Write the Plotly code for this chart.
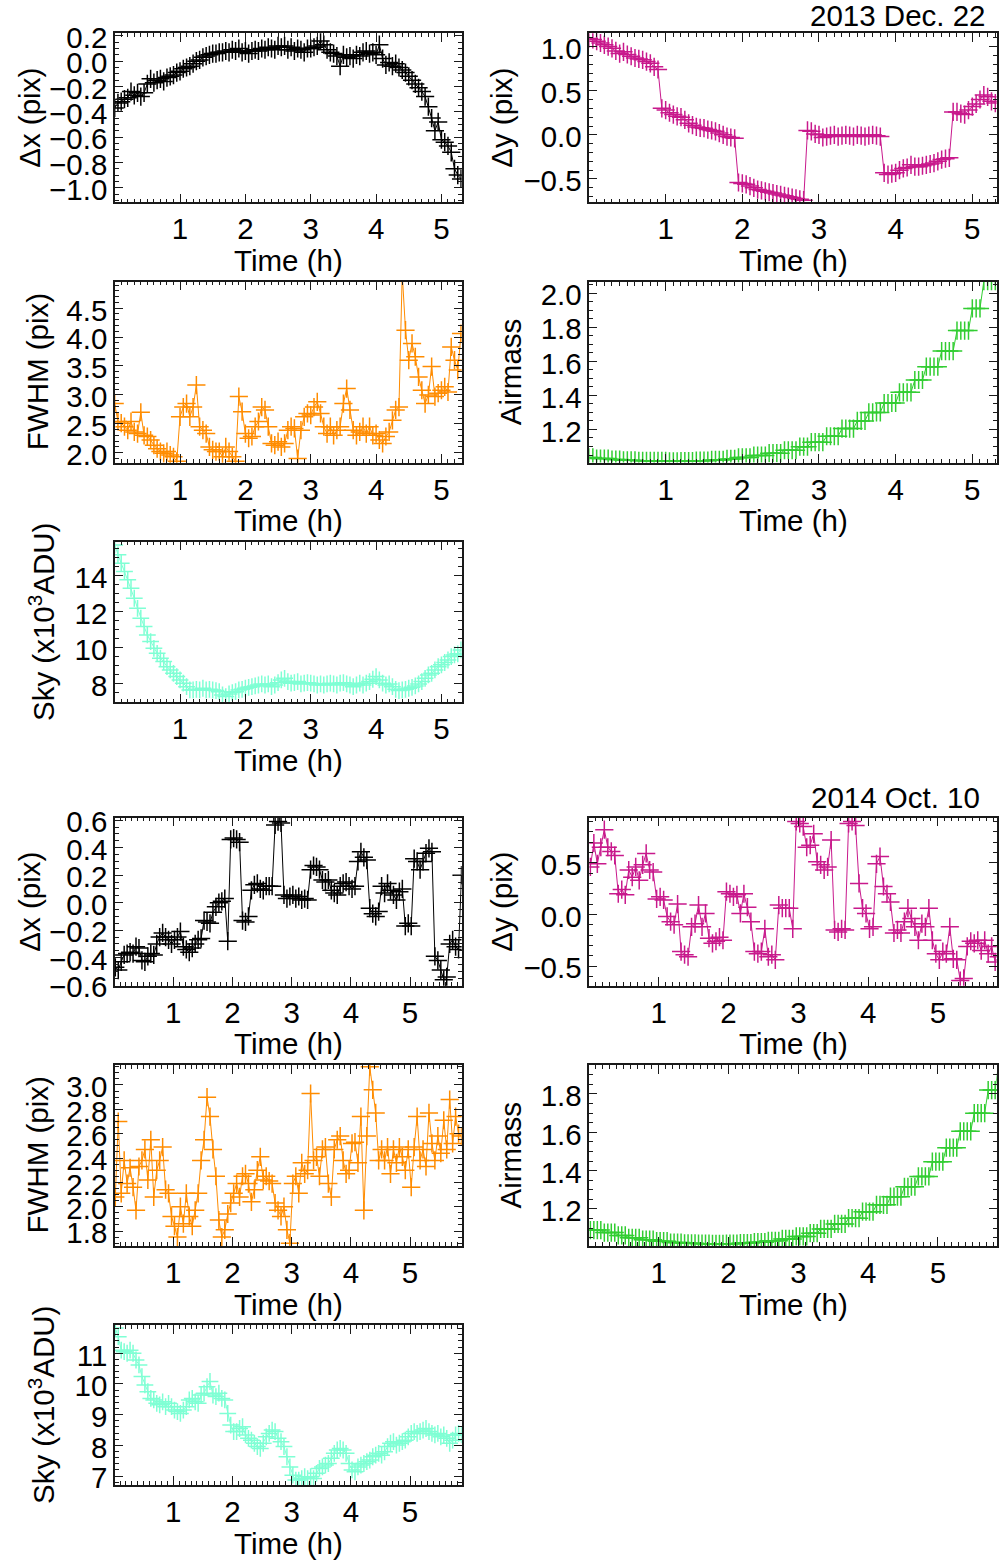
import plotly.graph_objects as go

W, H = 1000, 1564
DT = 0.05          # sampling cadence (h)
T0_2013 = 0.0
T0_2014 = 0.02

# ---------------- 2013 Dec. 22 ----------------
dx_2013 = [-0.37, -0.33, -0.32, -0.30, -0.29, -0.24, -0.27, -0.25, -0.28, -0.25,
           -0.18, -0.14, -0.17, -0.15, -0.14, -0.16, -0.13, -0.12, -0.11, -0.09,
           -0.08, -0.06, -0.05, -0.04, -0.02, 0.00, 0.01, 0.03, 0.04, 0.05,
           0.06, 0.06, 0.07, 0.07, 0.08, 0.07, 0.09, 0.08, 0.10, 0.07,
           0.08, 0.06, 0.08, 0.09, 0.08, 0.10, 0.09, 0.11, 0.10, 0.09,
           0.12, 0.11, 0.12, 0.09, 0.11, 0.08, 0.10, 0.09, 0.07, 0.10,
           0.10, 0.11, 0.12, 0.16, 0.13, 0.09, 0.07, 0.06, 0.04, -0.04,
           0.05, 0.03, 0.04, 0.02, 0.05, 0.04, 0.07, 0.08, 0.06, 0.07,
           0.05, 0.13, 0.02, -0.03, -0.01, -0.04, -0.02, -0.05, -0.07, -0.09,
           -0.12, -0.15, -0.18, -0.21, -0.24, -0.28, -0.36, -0.45, -0.55, -0.48,
           -0.62, -0.64, -0.67, -0.72, -0.85, -0.90, -0.93]

dy_2013 = [1.09, 1.08, 1.06, 1.04, 1.02, 1.00, 0.98, 0.95, 0.92, 0.94,
           0.91, 0.89, 0.87, 0.86, 0.85, 0.83, 0.81, 0.77, 0.74, 0.30,
           0.28, 0.25, 0.23, 0.21, 0.20, 0.17, 0.13, 0.11, 0.09, 0.08,
           0.075, 0.06, 0.05, 0.04, 0.02, 0.00, -0.02, -0.03, -0.04, -0.54,
           -0.55, -0.56, -0.58, -0.60, -0.62, -0.63, -0.64, -0.65, -0.66, -0.67,
           -0.68, -0.69, -0.70, -0.71, -0.72, -0.73, -0.74, 0.05, 0.04, 0.01,
           0.00, -0.03, -0.02, -0.01, 0.00, -0.02, -0.01, 0.00, -0.01, -0.02,
           0.00, -0.01, -0.02, -0.01, 0.00, -0.01, -0.02, -0.43, -0.45, -0.44,
           -0.43, -0.40, -0.38, -0.37, -0.34, -0.36, -0.36, -0.35, -0.34, -0.33,
           -0.32, -0.30, -0.28, -0.27, -0.26, 0.26, 0.26, 0.24, 0.23, 0.28,
           0.32, 0.35, 0.40, 0.45, 0.43, 0.38, 0.36]

fwhm_2013 = [2.85, 2.54, 2.51, 2.45, 2.39, 2.54, 2.36, 2.33, 2.70, 2.30,
             2.28, 2.22, 2.13, 2.07, 2.02, 1.99, 2.02, 1.96, 1.93, 1.85,
             2.62, 2.79, 2.85, 2.62, 2.79, 3.17, 2.45, 2.39, 2.33, 2.10,
             2.05, 2.02, 2.02, 1.93, 2.10, 2.02, 1.93, 1.85, 2.97, 2.71,
             2.33, 2.25, 2.28, 2.45, 2.54, 2.79, 2.74, 2.45, 2.16, 2.13,
             2.19, 2.10, 2.16, 2.39, 2.45, 2.42, 1.90, 2.39, 2.62, 2.68,
             2.65, 2.79, 2.88, 2.68, 2.45, 2.33, 2.45, 2.30, 2.39, 2.45,
             2.85, 3.11, 2.74, 2.39, 2.30, 2.36, 2.45, 2.33, 2.45, 2.30,
             2.33, 2.22, 2.16, 2.28, 2.36, 2.56, 2.74, 2.79, 5.10, 4.12,
             3.60, 3.89, 3.66, 3.31, 3.08, 2.85, 3.00, 3.49, 2.97, 3.03,
             3.08, 3.14, 3.05, 3.83, 3.60, 3.43, 4.06]

airmass_2013 = [1.036, 1.036,
                1.029, 1.029, 1.029, 1.029,
                1.023, 1.023, 1.023,
                1.019, 1.019, 1.019, 1.019,
                1.016, 1.016, 1.016, 1.016,
                1.015, 1.015, 1.015, 1.015,
                1.013, 1.013, 1.013,
                1.014, 1.014, 1.014, 1.014,
                1.017, 1.017, 1.017, 1.017,
                1.021, 1.021, 1.021, 1.021,
                1.027, 1.027, 1.027,
                1.036, 1.036, 1.036, 1.036,
                1.047, 1.047, 1.047, 1.047,
                1.061, 1.061, 1.061, 1.061,
                1.078, 1.078, 1.078, 1.078,
                1.099, 1.099, 1.099,
                1.125, 1.125, 1.125, 1.125,
                1.160, 1.160, 1.160, 1.160,
                1.205, 1.205, 1.205, 1.205,
                1.250, 1.250, 1.250,
                1.300, 1.300, 1.300, 1.300,
                1.355, 1.355, 1.355, 1.355,
                1.418, 1.418, 1.418, 1.418,
                1.490, 1.490, 1.490,
                1.568, 1.568, 1.568, 1.568,
                1.660, 1.660, 1.660, 1.660,
                1.780, 1.780, 1.780, 1.780,
                1.910, 1.910, 1.910,
                2.070, 2.070, 2.070, 2.070]

sky_2013 = [15.72, 15.17, 14.70, 14.24, 13.78, 13.31, 12.76, 12.20, 11.65, 11.19,
            10.72, 10.35, 9.98, 9.70, 9.43, 9.24, 8.96, 8.78, 8.59, 8.41,
            8.22, 8.04, 7.85, 7.67, 7.67, 7.70, 7.67, 7.76, 7.67, 7.70,
            7.67, 7.63, 7.57, 7.39, 7.30, 7.44, 7.52, 7.57, 7.67, 7.70,
            7.76, 7.81, 7.85, 7.89, 7.94, 8.00, 7.94, 8.00, 7.85, 7.94,
            8.07, 8.22, 8.31, 8.13, 8.04, 8.07, 8.13, 8.00, 8.04, 8.07,
            8.04, 8.00, 7.94, 8.00, 7.94, 8.00, 8.04, 8.00, 7.94, 8.04,
            8.07, 8.00, 7.94, 7.85, 7.94, 8.04, 7.94, 8.04, 8.13, 8.26,
            8.41, 8.22, 8.04, 7.94, 8.00, 7.85, 7.70, 7.63, 7.67, 7.70,
            7.76, 7.81, 7.89, 8.00, 8.13, 8.31, 8.50, 8.59, 8.78, 8.96,
            9.06, 9.19, 9.33, 9.52, 9.61, 9.67, 9.89]

# ---------------- 2014 Oct. 10 ----------------
dx_2014 = [-0.47, -0.49, -0.43, -0.38, -0.37, -0.36, -0.37, -0.32, -0.33, -0.42,
           -0.43, -0.39, -0.37, -0.38, -0.30, -0.25, -0.22, -0.25, -0.27, -0.30,
           -0.27, -0.25, -0.21, -0.32, -0.34, -0.36, -0.33, -0.30, -0.27, -0.26,
           -0.13, -0.14, -0.15, -0.07, -0.03, 0.00, 0.01, 0.03, -0.28, 0.46,
           0.47, 0.46, 0.44, -0.13, -0.14, -0.10, 0.09, 0.13, 0.14, 0.10,
           0.09, 0.12, 0.12, 0.12, 0.565, 0.59, 0.58, 0.056, 0.03, 0.045,
           0.056, 0.03, 0.045, 0.02, 0.03, 0.02, 0.24, 0.27, 0.26, 0.24,
           0.165, 0.15, 0.165, 0.09, 0.07, 0.056, 0.12, 0.14, 0.15, 0.12,
           0.10, 0.12, 0.30, 0.37, 0.33, 0.31, -0.04, -0.08, -0.10, -0.065,
           0.12, 0.07, 0.14, 0.09, 0.056, 0.02, 0.08, 0.10, -0.17, -0.15,
           -0.17, 0.32, 0.30, 0.24, 0.30, 0.36, 0.395, 0.37, -0.39, -0.42,
           -0.49, -0.56, -0.54, -0.30, -0.27, -0.32, -0.34, 0.20]

dy_2014 = [0.46, 0.69, 0.49, 0.65, 0.82, 0.65, 0.61, 0.57, 0.20, 0.24,
           0.19, 0.43, 0.36, 0.46, 0.33, 0.48, 0.59, 0.43, 0.41, 0.15,
           0.17, 0.14, -0.02, -0.07, -0.10, 0.10, -0.36, -0.39, -0.41, -0.12,
           -0.09, 0.09, -0.12, 0.01, -0.23, -0.28, -0.26, -0.22, -0.25, 0.22,
           0.20, 0.17, 0.19, 0.01, 0.20, 0.07, -0.07, -0.36, -0.38, -0.36,
           -0.14, -0.41, -0.39, -0.44, 0.09, 0.06, 0.06, 0.06, -0.14, 0.90,
           0.88, 0.85, 0.65, 0.67, 0.78, 0.51, 0.48, 0.43, 0.46, 0.72,
           -0.15, -0.17, -0.14, -0.15, 0.88, 0.90, 0.86, 0.30, 0.06, 0.01,
           -0.14, -0.12, 0.49, 0.56, 0.27, 0.20, 0.12, -0.18, -0.15, -0.18,
           -0.07, 0.06, -0.04, -0.12, -0.25, -0.09, -0.12, 0.06, -0.25, -0.38,
           -0.44, -0.36, -0.38, -0.12, -0.43, -0.44, -0.64, -0.62, -0.31, -0.26,
           -0.28, -0.25, -0.35, -0.25, -0.38, -0.31, -0.46, -0.41]

fwhm_2014 = [2.08, 2.70, 2.11, 2.38, 2.19, 2.32, 2.16, 1.97, 2.33, 2.38,
             2.47, 2.22, 2.55, 2.08, 2.30, 2.38, 2.49, 2.14, 2.11, 1.92,
             1.84, 1.75, 2.00, 1.86, 2.11, 1.92, 1.84, 1.97, 2.11, 2.38,
             2.55, 2.90, 2.74, 2.47, 2.25, 1.89, 1.75, 1.81, 1.94, 2.03,
             2.11, 2.19, 2.08, 2.25, 2.27, 2.19, 2.04, 2.14, 2.30, 2.41,
             2.22, 2.25, 2.21, 2.19, 2.03, 1.97, 1.92, 2.00, 1.81, 1.70,
             2.19, 2.25, 2.11, 2.36, 2.27, 2.30, 2.93, 2.38, 2.41, 2.25,
             2.47, 2.49, 2.19, 2.08, 2.47, 2.55, 2.58, 2.38, 2.27, 2.30,
             2.52, 2.53, 2.36, 2.74, 1.97, 2.58, 3.15, 2.96, 2.77, 2.38,
             2.47, 2.38, 2.49, 2.27, 2.47, 2.36, 2.49, 2.41, 2.30, 2.47,
             2.16, 2.49, 2.74, 2.38, 2.47, 2.33, 2.77, 2.52, 2.38, 2.58,
             2.44, 2.71, 2.47, 2.88, 2.52, 2.74, 2.60, 2.58]

airmass_2014 = [1.090, 1.090, 1.090, 1.090,
                1.077, 1.077, 1.077, 1.077,
                1.062, 1.062, 1.062,
                1.050, 1.050, 1.050, 1.050,
                1.040, 1.040, 1.040, 1.040,
                1.032, 1.032, 1.032, 1.032,
                1.025, 1.025, 1.025, 1.025,
                1.021, 1.021, 1.021, 1.021,
                1.019, 1.019, 1.019, 1.019,
                1.018, 1.018, 1.018, 1.018,
                1.019, 1.019, 1.019, 1.019,
                1.022, 1.022, 1.022, 1.022,
                1.027, 1.027, 1.027, 1.027,
                1.034, 1.034, 1.034, 1.034,
                1.044, 1.044, 1.044, 1.044,
                1.057, 1.057, 1.057, 1.057,
                1.074, 1.074, 1.074,
                1.096, 1.096, 1.096, 1.096,
                1.122, 1.122, 1.122, 1.122,
                1.152, 1.152, 1.152, 1.152,
                1.186, 1.186, 1.186, 1.186,
                1.222, 1.222, 1.222, 1.222,
                1.264, 1.264, 1.264, 1.264,
                1.316, 1.316, 1.316, 1.316,
                1.370, 1.370, 1.370, 1.370,
                1.447, 1.447, 1.447, 1.447,
                1.520, 1.520, 1.520, 1.520,
                1.605, 1.605, 1.605, 1.605,
                1.700, 1.700, 1.700, 1.700,
                1.820, 1.820, 1.820,
                1.960]

sky_2014 = [11.82, 11.54, 11.10, 11.05, 11.00, 11.10, 11.00, 10.78, 10.62, 10.24,
            9.97, 9.75, 9.53, 9.48, 9.37, 9.32, 9.42, 9.26, 9.37, 9.26,
            9.15, 9.10, 9.04, 9.15, 9.26, 9.48, 9.53, 9.42, 9.37, 9.64,
            9.70, 9.91, 10.08, 9.64, 9.59, 9.70, 9.53, 9.48, 9.04, 8.66,
            8.45, 8.45, 8.55, 8.61, 8.34, 8.23, 8.17, 8.07, 7.96, 7.90,
            8.07, 8.28, 8.39, 8.50, 8.45, 8.23, 8.12, 7.96, 7.63, 7.30,
            7.03, 6.87, 6.87, 6.92, 6.98, 6.92, 6.98, 6.92, 7.09, 7.25,
            7.30, 7.36, 7.41, 7.58, 7.74, 7.85, 7.90, 7.85, 7.74, 7.41,
            7.20, 7.14, 7.30, 7.36, 7.41, 7.47, 7.52, 7.63, 7.68, 7.74,
            7.68, 7.79, 7.96, 8.07, 8.12, 8.01, 8.07, 8.12, 8.17, 8.28,
            8.39, 8.45, 8.39, 8.45, 8.50, 8.55, 8.45, 8.39, 8.34, 8.39,
            8.28, 8.34, 8.23, 8.07, 8.17, 8.34, 8.39, 8.34]

date_labels = ["2013 Dec. 22", "2014 Oct. 10"]
x_title = "Time (h)"

# ---------------- styling ----------------
FONT = "Liberation Sans, Arial, Helvetica, sans-serif"
FS = 29.5
AX = "#1a1a1a"
C_DX, C_DY, C_FW, C_AM, C_SKY = "black", "#C8198C", "#FF8C00", "#32CD32", "#7FFFD4"

XR13_L, XR13_R = [0.005, 5.31], [0.004, 5.318]
XR14_L, XR14_R = [0.015, 5.873], [0.005, 5.842]

# (values, t0, color, marker size, xrange, yrange, frame px (x0,x1,y0,y1), y dtick, y minor dtick, y format, y title, y-title x px)
panels = [
    (dx_2013, T0_2013, C_DX, 13, XR13_L, [-1.115, 0.22], (115, 461.7, 33.3, 202.3), 0.2, 0.05, ".1f", "Δx (pix)", 30),
    (dy_2013, T0_2013, C_DY, 13, XR13_R, [-0.764, 1.15], (589.3, 996.7, 33.3, 202.3), 0.5, 0.1, ".1f", "Δy (pix)", 502),
    (fwhm_2013, T0_2013, C_FW, 13, XR13_L, [1.827, 4.958], (115, 461.7, 281.7, 462.7), 0.5, 0.1, ".1f", "FWHM (pix)", 37),
    (airmass_2013, T0_2013, C_AM, 13, XR13_R, [1.006, 2.065], (589.3, 996.7, 282, 462.5), 0.2, 0.05, ".1f", "Airmass", 510),
    (sky_2013, T0_2013, C_SKY, 12, XR13_L, [6.98, 15.9], (115, 461.7, 541.7, 702.3), 2, 0.5, "d", "Sky (x10<sup>3</sup>ADU)", 41),
    (dx_2014, T0_2014, C_DX, 13, XR14_L, [-0.604, 0.618], (115, 461.7, 817.7, 985.7), 0.2, 0.05, ".1f", "Δx (pix)", 30),
    (dy_2014, T0_2014, C_DY, 13, XR14_R, [-0.69, 0.936], (589.3, 996.7, 817.7, 985.7), 0.5, 0.1, ".1f", "Δy (pix)", 502),
    (fwhm_2014, T0_2014, C_FW, 13, XR14_L, [1.677, 3.164], (115, 461.7, 1065, 1246), 0.2, 0.05, ".1f", "FWHM (pix)", 37),
    (airmass_2014, T0_2014, C_AM, 13, XR14_R, [1.007, 1.951], (589.3, 996.7, 1065, 1246), 0.2, 0.05, ".1f", "Airmass", 510),
    (sky_2014, T0_2014, C_SKY, 12, XR14_L, [6.71, 11.92], (115, 461.7, 1325, 1485), 1, 0.2, "d", "Sky (x10<sup>3</sup>ADU)", 41),
]

fig = go.Figure()
layout = dict(
    template="none",
    width=W, height=H, autosize=False,
    margin=dict(l=0, r=0, t=0, b=0, pad=0, autoexpand=False),
    paper_bgcolor="white", plot_bgcolor="white", showlegend=False,
    font=dict(family=FONT, size=FS, color="black"),
)
annotations = []

for i, (vals, t0, color, msize, xr, yr, (x0, x1, y0, y1), ydt, ymin, yfmt, ytitle, ytx) in enumerate(panels, start=1):
    times = [round(t0 + DT * k, 4) for k in range(len(vals))]
    fig.add_trace(go.Scatter(
        x=times, y=vals, mode="lines+markers",
        line=dict(color=color, width=1),
        marker=dict(symbol="cross-thin", size=msize, color=color,
                    line=dict(color=color, width=1.5)),
        xaxis=f"x{i}", yaxis=f"y{i}", cliponaxis=True,
    ))
    xk = "xaxis" if i == 1 else f"xaxis{i}"
    yk = "yaxis" if i == 1 else f"yaxis{i}"
    common = dict(showline=True, linecolor=AX, linewidth=1.5, mirror="ticks",
                  ticks="inside", tickcolor=AX, tickwidth=1.2, showgrid=False,
                  zeroline=False, automargin=False,
                  tickfont=dict(family=FONT, size=FS, color="black"))
    layout[xk] = dict(common, domain=[x0 / W, x1 / W], range=xr, anchor=f"y{i}",
                      tick0=0, dtick=1, ticklen=9,
                      minor=dict(dtick=0.1, tick0=0, ticklen=4, ticks="inside",
                                 tickcolor=AX, tickwidth=1, showgrid=False))
    layout[yk] = dict(common, domain=[1 - y1 / H, 1 - y0 / H], range=yr, anchor=f"x{i}",
                      tick0=0, dtick=ydt, ticklen=8, tickformat=yfmt,
                      ticklabelshift=2,
                      minor=dict(dtick=ymin, tick0=0, ticklen=4, ticks="inside",
                                 tickcolor=AX, tickwidth=1, showgrid=False))
    annotations.append(dict(text=ytitle, x=ytx / W, y=1 - (y0 + y1) / 2 / H,
                            xref="paper", yref="paper", showarrow=False,
                            textangle=-90, xanchor="center", yanchor="middle",
                            font=dict(family=FONT, size=FS, color="black")))
    annotations.append(dict(text=x_title, x=(x0 + x1) / 2 / W, y=1 - (y1 + 58) / H,
                            xref="paper", yref="paper", showarrow=False,
                            xanchor="center", yanchor="middle",
                            font=dict(family=FONT, size=FS, color="black")))

annotations.append(dict(text=date_labels[0], x=988 / W, y=1 - 16 / H, xref="paper", yref="paper",
                        showarrow=False, xanchor="right", yanchor="middle",
                        font=dict(family=FONT, size=FS, color="black")))
annotations.append(dict(text=date_labels[1], x=982 / W, y=1 - 798 / H, xref="paper", yref="paper",
                        showarrow=False, xanchor="right", yanchor="middle",
                        font=dict(family=FONT, size=FS, color="black")))
layout["annotations"] = annotations
fig.update_layout(**layout)
fig.write_html("out.html")
